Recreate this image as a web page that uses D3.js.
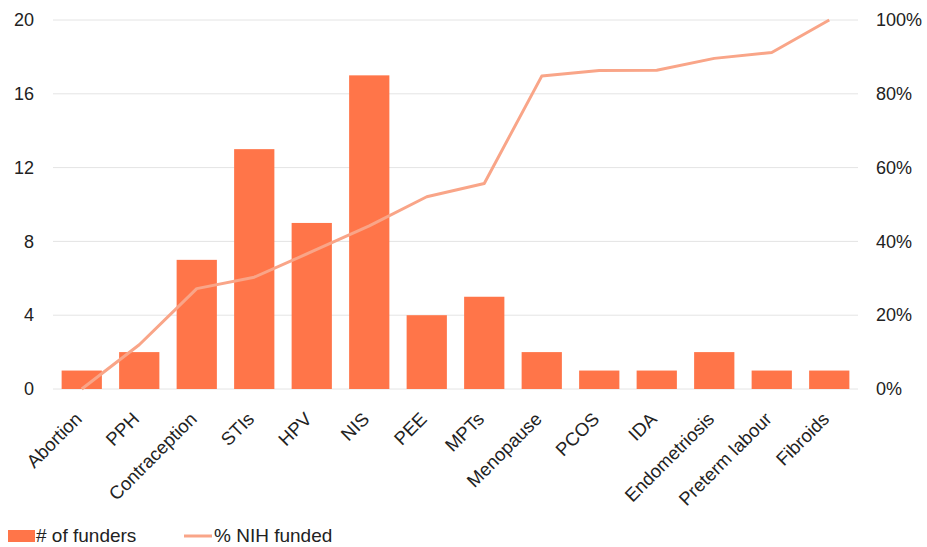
<!DOCTYPE html>
<html>
<head>
<meta charset="utf-8">
<script src="https://cdn.jsdelivr.net/npm/d3@7/dist/d3.min.js"></script>
<style>
  html, body { margin: 0; padding: 0; background: #fff; }
  svg { display: block; font-family: "Liberation Sans", Arial, sans-serif; }
</style>
</head>
<body>
<svg id="chart" width="927" height="547"></svg>
<script>
const categories = ["Abortion", "PPH", "Contraception", "STIs", "HPV", "NIS", "PEE", "MPTs", "Menopause", "PCOS", "IDA", "Endometriosis", "Preterm labour", "Fibroids"];
const funders = [1, 2, 7, 13, 9, 17, 4, 5, 2, 1, 1, 2, 1, 1];
const nihPct = [0, 12, 27.2, 30.3, 37.2, 44.2, 52.1, 55.7, 84.8, 86.3, 86.4, 89.6, 91.2, 100];
const leftTicks = [0, 4, 8, 12, 16, 20];
const rightTicks = [0, 20, 40, 60, 80, 100];

const barColor = "#FF7549";
const lineColor = "#F9A588";

const svg = d3.select("#chart");
const m = { left: 53, right: 858, top: 20, bottom: 389 };

const x = d3.scaleBand().domain(categories).range([m.left, m.right]).paddingInner(0.3).paddingOuter(0.15);
const yL = d3.scaleLinear().domain([0, 20]).range([m.bottom, m.top]);
const yR = d3.scaleLinear().domain([0, 100]).range([m.bottom, m.top]);

// gridlines
svg.append("g").selectAll("line").data(leftTicks).join("line")
  .attr("x1", m.left).attr("x2", m.right)
  .attr("y1", d => yL(d)).attr("y2", d => yL(d))
  .attr("stroke", "#E4E4E4").attr("stroke-width", 1);

// left axis
const leftAxis = svg.append("g").attr("transform", `translate(${m.left},0)`)
  .call(d3.axisLeft(yL).tickValues(leftTicks).tickSize(0).tickPadding(19));
leftAxis.select(".domain").remove();
leftAxis.selectAll("text").attr("font-size", 18).attr("fill", "#222").attr("font-family", "Liberation Sans, Arial, sans-serif");

// right axis
const rightAxis = svg.append("g").attr("transform", `translate(${m.right},0)`)
  .call(d3.axisRight(yR).tickValues(rightTicks).tickSize(0).tickPadding(18).tickFormat(d => d + "%"));
rightAxis.select(".domain").remove();
rightAxis.selectAll("text").attr("font-size", 18).attr("fill", "#222").attr("font-family", "Liberation Sans, Arial, sans-serif");

// bars
svg.append("g").selectAll("rect").data(categories).join("rect")
  .attr("x", d => x(d))
  .attr("width", x.bandwidth())
  .attr("y", (d, i) => yL(funders[i]))
  .attr("height", (d, i) => yL(0) - yL(funders[i]))
  .attr("fill", barColor);

// line
const line = d3.line()
  .x((d, i) => x(categories[i]) + x.bandwidth() / 2)
  .y(d => yR(d));
svg.append("path").datum(nihPct)
  .attr("d", line)
  .attr("fill", "none")
  .attr("stroke", lineColor)
  .attr("stroke-width", 3)
  .attr("stroke-linejoin", "round");

// x axis labels
const xAxis = svg.append("g").attr("transform", `translate(0,${m.bottom})`)
  .call(d3.axisBottom(x).tickSize(0).tickPadding(0));
xAxis.select(".domain").remove();
xAxis.selectAll("text")
  .attr("font-size", 18.5).attr("fill", "#222").attr("font-family", "Liberation Sans, Arial, sans-serif")
  .attr("text-anchor", "end")
  .attr("dy", "0.7em")
  .attr("transform", "translate(-8,22) rotate(-45)");

// legend
const leg = svg.append("g");
leg.append("rect").attr("x", 8).attr("y", 530).attr("width", 27).attr("height", 12).attr("fill", barColor);
leg.append("text").attr("x", 36).attr("y", 542).attr("font-size", 19).attr("fill", "#222").text("# of funders");
leg.append("line").attr("x1", 184).attr("x2", 212).attr("y1", 536).attr("y2", 536)
  .attr("stroke", lineColor).attr("stroke-width", 3);
leg.append("text").attr("x", 214).attr("y", 542).attr("font-size", 19).attr("fill", "#222").text("% NIH funded");
</script>
</body>
</html>
